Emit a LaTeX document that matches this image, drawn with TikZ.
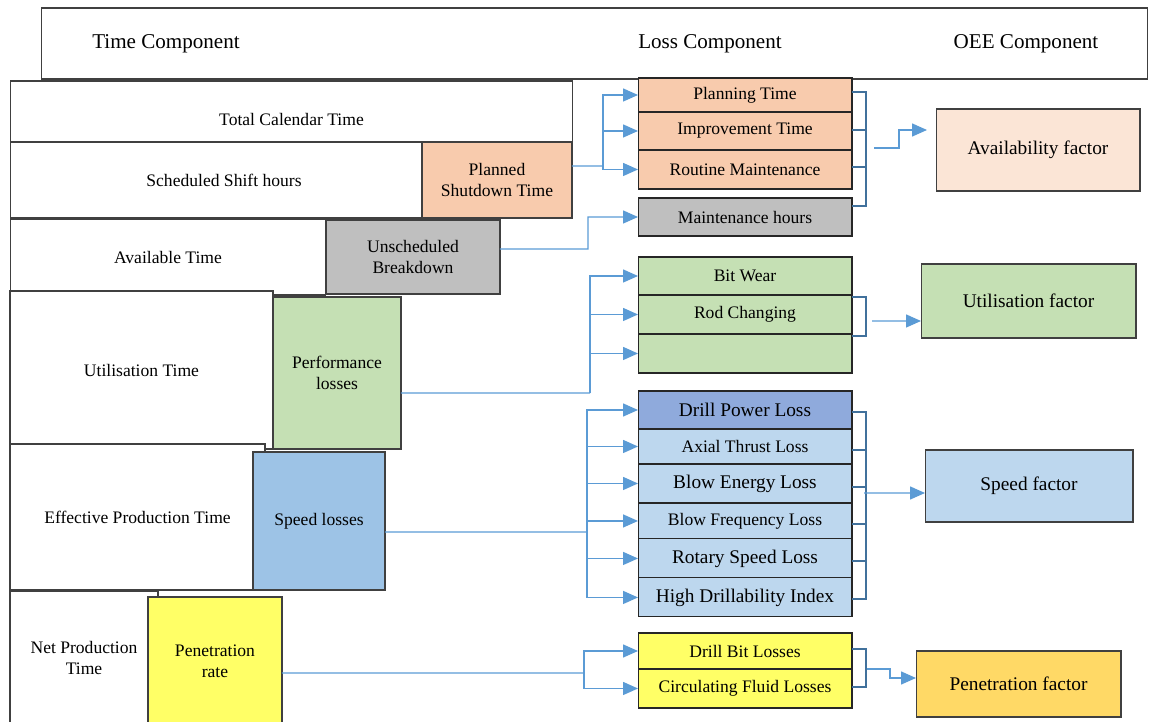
\documentclass[tikz,border=0pt]{standalone}
\usepackage{fontspec}
\setmainfont{Liberation Serif}
\usetikzlibrary{positioning,arrows.meta}

\definecolor{peach}{HTML}{F8CBAD}
\definecolor{palepeach}{HTML}{FBE5D6}
\definecolor{greybox}{HTML}{BFBFBF}
\definecolor{greenbox}{HTML}{C5E0B4}
\definecolor{bluebox}{HTML}{9DC3E6}
\definecolor{paleblue}{HTML}{BDD7EE}
\definecolor{midblue}{HTML}{8FAADC}
\definecolor{yellowbox}{HTML}{FFFF66}
\definecolor{goldbox}{HTML}{FFD966}
\definecolor{flowblue}{HTML}{5B9BD5}
\definecolor{brackblue}{HTML}{41719C}

\begin{document}
\begin{tikzpicture}[
        x=0.02cm, y=-0.02cm,
        every node/.style={font=\fontsize{10}{12}\selectfont},
        tbox/.style={draw=black!75, fill=white, line width=0.6pt, inner sep=2pt, outer sep=0pt, align=center},
        lossbox/.style={tbox, draw=black!85, minimum width=4.28cm},
        oeebox/.style={tbox, font=\fontsize{11}{13}\selectfont},
        flow/.style={draw=flowblue, line width=0.8pt, -{Triangle[length=0.3cm,width=0.26cm]}},
        trunk/.style={draw=flowblue, line width=0.8pt},
        brkt/.style={draw=brackblue, line width=1.3pt},
        node distance=0pt
    ]
    \useasboundingbox (0,0) rectangle (1150,722);

    % Header
    \node[tbox, minimum width=22.14cm, minimum height=1.42cm] (header) at (594.5,43.5) {};
    \node[font=\fontsize{12}{14}\selectfont] (hdtime) at (166,44) {Time Component};
    \node[font=\fontsize{12}{14}\selectfont] (hdloss) at (710,44) {Loss Component};
    \node[font=\fontsize{12}{14}\selectfont] (hdoee) at (1026,44) {OEE Component};

    % Time components (left stack)
    \node[tbox, minimum width=11.26cm, minimum height=1.52cm] (totalcal) at (291.5,119) {Total Calendar Time};
    \node[tbox, minimum width=8.56cm, minimum height=1.52cm] (schedshift) at (224,180) {Scheduled Shift hours};
    \node[tbox, minimum width=6.32cm, minimum height=1.52cm] (availtime) at (168,257) {Available Time};
    \node[tbox, minimum width=5.26cm, minimum height=3.16cm] (utiltime) at (141.5,370) {Utilisation Time};
    \node[tbox, minimum width=5.1cm, minimum height=2.92cm] (effprod) at (137.5,517) {Effective Production Time};
    \node[tbox, minimum width=2.96cm, minimum height=2.68cm] (netprod) at (84,658) {Net Production\\Time};

    % Loss blocks
    \node[tbox, fill=peach, minimum width=3cm, minimum height=1.52cm] (planned) at (497,180) {Planned\\Shutdown Time};
    \node[tbox, fill=greybox, minimum width=3.48cm, minimum height=1.48cm] (unsched) at (413,257) {Unscheduled\\Breakdown};
    \node[tbox, fill=greenbox, minimum width=2.56cm, minimum height=3.04cm] (perf) at (337,373) {Performance\\losses};
    \node[tbox, fill=bluebox, minimum width=2.64cm, minimum height=2.76cm] (speedloss) at (319,521) {Speed losses};
    \node[tbox, fill=yellowbox, minimum width=2.68cm, minimum height=2.56cm] (penrate) at (215,661) {Penetration\\rate};

    % Loss components
    \node[lossbox, fill=peach, minimum height=0.68cm] (planning) at (745,95) {Planning Time};
    \node[lossbox, fill=peach, minimum height=0.76cm, below=of planning] (improve) {Improvement Time};
    \node[lossbox, fill=peach, minimum height=0.78cm, below=of improve] (routine) {Routine Maintenance};
    \node[lossbox, fill=greybox, minimum height=0.76cm] (mainthrs) at (745,217) {Maintenance hours};

    \node[lossbox, fill=greenbox, minimum height=0.76cm] (bitwear) at (745,276) {Bit Wear};
    \node[lossbox, fill=greenbox, minimum height=0.78cm, below=of bitwear] (rodchg) {Rod Changing};
    \node[lossbox, fill=greenbox, minimum height=0.78cm, below=of rodchg] (emptyperf) {};

    \node[lossbox, fill=midblue, minimum height=0.76cm, font=\fontsize{11}{13}\selectfont] (drillpower) at (745,410) {Drill Power Loss};
    \node[lossbox, fill=paleblue, minimum height=0.70cm, below=of drillpower] (axial) {Axial Thrust Loss};
    \node[lossbox, fill=paleblue, minimum height=0.78cm, below=of axial, font=\fontsize{11}{13}\selectfont] (blowenergy) {Blow Energy Loss};
    \node[lossbox, fill=paleblue, minimum height=0.72cm, below=of blowenergy] (blowfreq) {Blow Frequency Loss};
    \node[lossbox, fill=paleblue, minimum height=0.78cm, below=of blowfreq, font=\fontsize{11}{13}\selectfont] (rotary) {Rotary Speed Loss};
    \node[lossbox, fill=paleblue, minimum height=0.78cm, below=of rotary, font=\fontsize{11}{13}\selectfont] (highdrill) {High Drillability Index};

    \node[lossbox, fill=yellowbox, minimum height=0.72cm] (drillbit) at (745,651) {Drill Bit Losses};
    \node[lossbox, fill=yellowbox, minimum height=0.78cm, below=of drillbit] (circfluid) {Circulating Fluid Losses};

    % OEE components
    \node[oeebox, fill=palepeach, minimum width=4.08cm, minimum height=1.64cm] (availf) at (1038,150) {Availability factor};
    \node[oeebox, fill=greenbox, minimum width=4.3cm, minimum height=1.48cm] (utilf) at (1028.5,301) {Utilisation factor};
    \node[oeebox, fill=paleblue, minimum width=4.16cm, minimum height=1.44cm] (speedf) at (1029,486) {Speed factor};
    \node[oeebox, fill=goldbox, minimum width=4.1cm, minimum height=1.32cm] (penf) at (1018.5,684) {Penetration factor};

    % Split points
    \coordinate (spA) at (603,166);
    \coordinate (spB) at (588,249);
    \coordinate (spC) at (590,393);
    \coordinate (spD) at (587,532);
    \coordinate (spE) at (584,673);

    % Arrows to loss components
    \draw[trunk] ([yshift=0.28cm]planned.east) -- (spA);
    \foreach \t in {planning,improve,routine}
        \draw[flow] (spA) |- (\t.west);
    \draw[flow] ([yshift=0.16cm]unsched.east) -- (spB) |- (mainthrs.west);
    \draw[trunk] ([yshift=-0.4cm]perf.east) -- (spC);
    \foreach \t in {bitwear,rodchg,emptyperf}
        \draw[flow] (spC) |- (\t.west);
    \draw[trunk] ([yshift=-0.22cm]speedloss.east) -- (spD);
    \foreach \t in {drillpower,axial,blowenergy,blowfreq,rotary,highdrill}
        \draw[flow] (spD) |- (\t.west);
    \draw[trunk] ([yshift=-0.24cm]penrate.east) -- (spE);
    \foreach \t in {drillbit,circfluid}
        \draw[flow] (spE) |- (\t.west);

    % Brackets
    \foreach \a/\b in {92/130,130/167,167/206,297/336,412/450,450/487,487/524,524/561,561/599,649/687}
        \draw[brkt] (852,\a) -| (866,\b) -- (852,\b);

    % Arrows to OEE components
    \coordinate (bkA) at (874,148);
    \coordinate (bkB) at (872,321);
    \coordinate (bkC) at (864,493);
    \coordinate (bkD) at (867,669);
    \draw[flow] (bkA) -- ++(25,0) |- ([yshift=0.4cm,xshift=-0.18cm]availf.west);
    \draw[flow] (bkB) -- ([yshift=-0.4cm]utilf.west);
    \draw[flow] (bkC) -- ([yshift=-0.14cm]speedf.west);
    \draw[flow] (bkD) -- ++(23,0) |- ([yshift=0.12cm]penf.west);

\end{tikzpicture}
\end{document}
